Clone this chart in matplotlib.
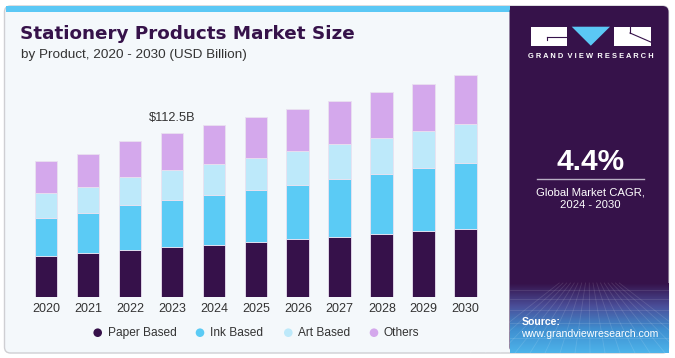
import numpy as np
import matplotlib
matplotlib.use("Agg")
import matplotlib.pyplot as plt
from matplotlib.patches import FancyBboxPatch, Rectangle, Polygon, Circle
from matplotlib.colors import LinearSegmentedColormap

plt.rcParams['font.family'] = ['Liberation Sans', 'DejaVu Sans']

# ---------------- data ----------------
years = ["2020", "2021", "2022", "2023", "2024", "2025", "2026", "2027", "2028", "2029", "2030"]
paper_based = [28.3, 30.1, 32.6, 34.2, 36.0, 37.7, 39.7, 41.3, 43.3, 45.2, 46.8]
ink_based = [26.2, 27.4, 30.4, 32.2, 33.8, 35.6, 37.2, 39.5, 41.1, 43.1, 45.0]
art_based = [17.1, 18.0, 19.4, 20.5, 21.2, 22.3, 23.5, 24.0, 24.9, 25.7, 27.1]
others = [21.7, 22.8, 24.6, 25.5, 26.7, 27.7, 28.5, 29.8, 31.1, 32.0, 33.1]
series_names = ["Paper Based", "Ink Based", "Art Based", "Others"]
annot_year = "2023"
annot_label = "$112.5B"

colors = ["#36114A", "#5BCBF5", "#BDE9FA", "#D4A8EC"]
purple = "#36124A"

W, H = 675, 358
fig = plt.figure(figsize=(W / 100, H / 100), dpi=100)
fig.patch.set_facecolor("white")

bg = fig.add_axes([0, 0, 1, 1])
bg.set_xlim(0, W)
bg.set_ylim(H, 0)
bg.axis("off")

# card
card = FancyBboxPatch((4.5, 6), 664, 347, boxstyle="round,pad=0,rounding_size=6",
                      facecolor="#F4F8FB", edgecolor="#CFCFD3", lw=1.0, zorder=1)
bg.add_patch(card)
# top blue stripe
bg.add_patch(Rectangle((5.5, 6), 505, 5.5, facecolor="#5BC8F5", edgecolor="none", zorder=2))

# right panel
panel = FancyBboxPatch((509.5, 6), 159, 347, boxstyle="round,pad=0,rounding_size=6",
                       facecolor=purple, edgecolor="none", zorder=2)
bg.add_patch(panel)
bg.add_patch(Rectangle((509.5, 6), 10, 347, facecolor=purple, edgecolor="none", zorder=2))

# bottom gradient of panel
grad = np.linspace(0, 1, 100).reshape(-1, 1)
cmap = LinearSegmentedColormap.from_list("g", [purple, "#4A4F9A", "#3F8FD0", "#4DB3EA"])
bg.imshow(grad, aspect="auto", cmap=cmap, extent=[509.5, 668.5, 353, 283],
          origin="upper", zorder=3, interpolation="bilinear")
# faint perspective grid
for xb in np.linspace(470, 710, 17):
    bg.plot([589 + (xb - 589) * 0.25, xb], [283, 353], color="white", alpha=0.12, lw=0.6, zorder=4, clip_on=True)
for yy in [290, 299, 310, 323, 338]:
    bg.plot([509.5, 668], [yy, yy], color="white", alpha=0.12, lw=0.6, zorder=4)

# logo
bg.add_patch(Rectangle((530.7, 26.7), 36, 19, facecolor="white", edgecolor="none", zorder=5))
bg.plot([547, 566.7], [36.5, 36.5], color=purple, lw=0.8, zorder=6)
bg.plot([547, 547], [36.5, 40], color=purple, lw=0.8, zorder=6)
bg.add_patch(Polygon([(571.7, 26.7), (610, 26.7), (590.8, 45.7)], closed=True,
                     facecolor="#5BC8F5", edgecolor="none", zorder=5))
bg.add_patch(Rectangle((614.3, 26.7), 36.4, 19, facecolor="white", edgecolor="none", zorder=5))
bg.plot([630, 650.7], [33, 42], color=purple, lw=0.8, zorder=6)
bg.plot([630, 630], [26.7, 33], color=purple, lw=0.8, zorder=6)
bg.text(590.7, 56.7, "G R A N D  V I E W  R E S E A R C H", color="white", fontsize=5.4,
        fontweight="bold", ha="center", va="center", zorder=6)

bg.text(590.7, 162, "4.4%", color="white", fontsize=21.5, fontweight="bold",
        ha="center", va="center", zorder=6)
bg.plot([537.3, 644], [179.3, 179.3], color="#B9AFC4", lw=1.0, zorder=6)
bg.text(590.7, 192.7, "Global Market CAGR,", color="white", fontsize=8.1,
        ha="center", va="center", zorder=6)
bg.text(590.7, 205, "2024 - 2030", color="white", fontsize=8.1,
        ha="center", va="center", zorder=6)
bg.text(521.5, 321.7, "Source:", color="white", fontsize=7.6, fontweight="bold",
        ha="left", va="center", zorder=6)
bg.text(521.5, 334.3, "www.grandviewresearch.com", color="white", fontsize=7.6,
        ha="left", va="center", zorder=6)

# titles
bg.text(20, 34, "Stationery Products Market Size", color=purple, fontsize=13.2,
        fontweight="bold", ha="left", va="center", zorder=6,
        family=["DejaVu Sans"])
bg.text(21, 55, "by Product, 2020 - 2030 (USD Billion)", color="#333333", fontsize=9.7,
        ha="left", va="center", zorder=6)

# ---------------- bar chart ----------------
base_px = 297.3
top_px = 60.0
px_per_unit = 1.4607
ax_left, ax_right = 25.0, 486.7
ax = fig.add_axes([ax_left / W, (H - base_px) / H, (ax_right - ax_left) / W, (base_px - top_px) / H])
ax.set_facecolor("none")
ax.set_zorder(5)
ax.set_xlim(-0.5, len(years) - 0.5)
ax.set_ylim(0, (base_px - top_px) / px_per_unit)

x = np.arange(len(years))
bottom = np.zeros(len(years))
for vals, c in zip([paper_based, ink_based, art_based, others], colors):
    ax.bar(x, vals, width=0.54, bottom=bottom, color=c, edgecolor="#E9E1F0", linewidth=0.6)
    bottom = bottom + np.array(vals)

i = years.index(annot_year)
ax.text(x[i], bottom[i] + 10.5, annot_label, ha="center", va="center", fontsize=9.2, color="#333333")

ax.set_xticks(x)
ax.set_xticklabels(years, fontsize=9, color="#333333")
ax.tick_params(axis="x", length=0, pad=4)
ax.set_yticks([])
for s in ax.spines.values():
    s.set_visible(False)

# legend (manual, centered)
leg_x = [97.7, 200, 288.3, 374]
for lx, name, c in zip(leg_x, series_names, colors):
    bg.add_patch(Circle((lx, 332.7), 4.3, facecolor=c, edgecolor="none", zorder=6))
    bg.text(lx + 10, 332.7, name, fontsize=8.6, color="#333333", ha="left", va="center", zorder=6)

fig.savefig("out.png", dpi=100)
